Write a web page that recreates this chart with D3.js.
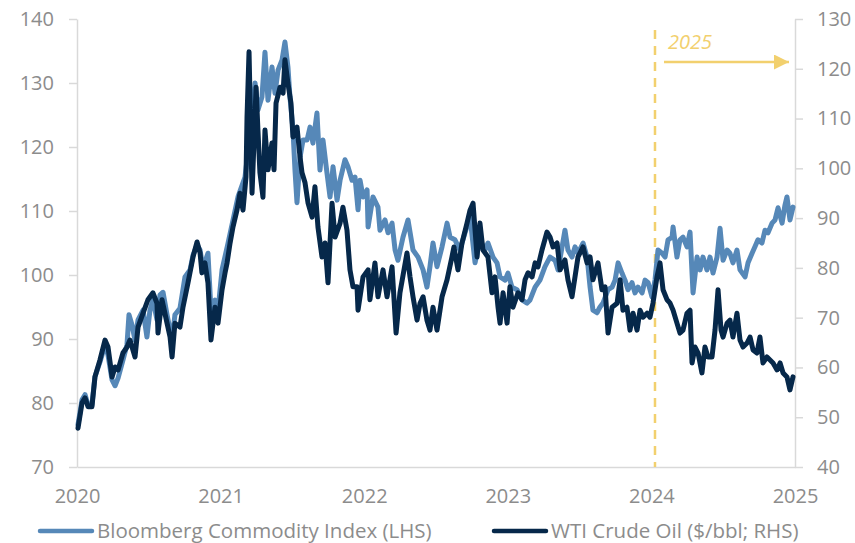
<!DOCTYPE html>
<html>
<head>
<meta charset="utf-8">
<script src="https://cdn.jsdelivr.net/npm/d3@7/dist/d3.min.js"></script>
<style>
  html, body { margin: 0; padding: 0; background: #ffffff; }
  svg { display: block; }
  text { font-family: "Open Sans", "Noto Sans", sans-serif; }
</style>
</head>
<body>
<svg id="chart" width="855" height="543"></svg>
<script>
// ---- data ----
const yearTicks = [2020, 2021, 2022, 2023, 2024, 2025];
const leftTicks = [70, 80, 90, 100, 110, 120, 130, 140];
const rightTicks = [40, 50, 60, 70, 80, 90, 100, 110, 120, 130];
const seriesNames = ["Bloomberg Commodity Index (LHS)", "WTI Crude Oil ($/bbl; RHS)"];
const annotationLabel = "2025";
const annotationDate = 2024.025;

const bcomDates = [2020.007,2020.035,2020.056,2020.077,2020.104,2020.125,2020.160,2020.195,2020.216,2020.244,2020.265,2020.286,2020.320,2020.348,2020.362,2020.383,2020.404,2020.425,2020.460,2020.487,2020.508,2020.529,2020.557,2020.578,2020.599,2020.627,2020.648,2020.662,2020.682,2020.717,2020.752,2020.787,2020.808,2020.836,2020.857,2020.877,2020.912,2020.933,2020.961,2020.982,2021.010,2021.052,2021.121,2021.170,2021.219,2021.240,2021.260,2021.288,2021.309,2021.330,2021.358,2021.379,2021.400,2021.428,2021.448,2021.469,2021.483,2021.504,2021.518,2021.532,2021.553,2021.574,2021.602,2021.623,2021.643,2021.671,2021.692,2021.713,2021.741,2021.762,2021.783,2021.811,2021.832,2021.866,2021.887,2021.915,2021.936,2021.957,2021.971,2021.992,2022.020,2022.027,2022.061,2022.096,2022.110,2022.145,2022.166,2022.194,2022.215,2022.235,2022.270,2022.305,2022.340,2022.375,2022.410,2022.437,2022.458,2022.479,2022.507,2022.542,2022.577,2022.598,2022.632,2022.667,2022.702,2022.737,2022.772,2022.806,2022.841,2022.862,2022.897,2022.925,2022.946,2022.981,2023.001,2023.029,2023.064,2023.099,2023.134,2023.155,2023.190,2023.224,2023.259,2023.294,2023.329,2023.350,2023.378,2023.398,2023.419,2023.447,2023.468,2023.489,2023.524,2023.552,2023.573,2023.593,2023.621,2023.642,2023.663,2023.698,2023.726,2023.747,2023.768,2023.795,2023.816,2023.837,2023.865,2023.886,2023.907,2023.935,2023.956,2023.977,2024.004,2024.025,2024.046,2024.074,2024.095,2024.116,2024.144,2024.151,2024.178,2024.199,2024.220,2024.248,2024.269,2024.283,2024.290,2024.318,2024.339,2024.359,2024.387,2024.408,2024.429,2024.457,2024.478,2024.499,2024.527,2024.547,2024.568,2024.596,2024.617,2024.652,2024.673,2024.701,2024.721,2024.742,2024.770,2024.791,2024.812,2024.840,2024.861,2024.882,2024.910,2024.930,2024.944,2024.965,2024.986];
const bcomValues = [76.6,80.5,81.3,79.7,79.7,84.1,86.4,89.1,87.5,83.6,82.7,83.9,86.7,89.1,93.8,92.2,89.8,93.0,94.5,90.3,94.5,96.1,93.0,96.9,97.3,93.8,91.4,89.8,93.8,94.8,99.7,100.8,103.1,104.7,103.9,101.1,103.4,94.5,96.1,94.5,100.8,105.0,112.2,115.3,124.7,130.0,125.8,127.8,134.8,127.3,132.5,128.4,132.0,133.6,136.4,132.5,127.8,122.7,116.4,111.3,118.4,121.1,121.1,123.1,120.6,125.3,116.4,121.1,115.9,112.2,116.9,111.7,114.8,118.0,116.9,114.8,115.3,110.2,114.8,112.2,113.3,107.5,112.2,110.6,107.0,108.6,106.6,108.1,103.9,102.3,105.9,108.6,103.9,102.8,100.8,98.1,101.3,105.0,101.3,104.4,108.1,105.9,105.5,103.9,106.6,109.1,101.9,105.5,103.9,105.0,102.8,101.9,99.7,99.2,100.3,98.1,97.7,96.1,95.6,96.1,98.1,99.2,101.3,102.8,102.3,100.8,104.4,107.0,103.9,102.8,104.4,103.4,105.0,102.8,98.1,94.5,94.1,95.0,95.6,97.7,98.1,99.2,101.9,100.3,99.2,97.7,98.8,97.2,98.1,97.2,99.2,98.8,96.6,99.2,103.9,103.4,102.8,105.5,105.9,107.5,102.8,105.5,105.9,104.4,106.7,100.3,97.2,102.8,100.8,102.8,100.8,102.8,100.3,102.8,107.3,102.3,103.9,103.4,101.9,103.9,100.8,99.7,101.9,103.4,104.4,105.5,105.0,107.0,106.6,108.1,108.6,110.5,108.1,110.9,112.2,108.6,110.6];

const wtiDates = [2020.007,2020.035,2020.056,2020.077,2020.104,2020.125,2020.160,2020.195,2020.216,2020.244,2020.265,2020.286,2020.320,2020.348,2020.369,2020.404,2020.425,2020.460,2020.494,2020.529,2020.557,2020.564,2020.592,2020.627,2020.648,2020.662,2020.682,2020.717,2020.738,2020.773,2020.808,2020.836,2020.857,2020.870,2020.891,2020.912,2020.933,2020.961,2020.982,2021.010,2021.031,2021.045,2021.066,2021.086,2021.114,2021.135,2021.156,2021.177,2021.184,2021.198,2021.219,2021.247,2021.260,2021.274,2021.295,2021.309,2021.330,2021.358,2021.372,2021.386,2021.414,2021.435,2021.448,2021.469,2021.490,2021.504,2021.532,2021.553,2021.567,2021.588,2021.609,2021.637,2021.657,2021.678,2021.706,2021.727,2021.748,2021.776,2021.797,2021.832,2021.852,2021.880,2021.901,2021.922,2021.950,2021.957,2021.992,2022.027,2022.040,2022.075,2022.096,2022.131,2022.159,2022.194,2022.222,2022.249,2022.298,2022.319,2022.340,2022.368,2022.389,2022.410,2022.437,2022.458,2022.479,2022.507,2022.542,2022.577,2022.611,2022.625,2022.653,2022.681,2022.716,2022.737,2022.758,2022.786,2022.806,2022.827,2022.862,2022.890,2022.911,2022.932,2022.946,2022.967,2022.995,2023.015,2023.036,2023.071,2023.099,2023.120,2023.141,2023.169,2023.190,2023.210,2023.238,2023.273,2023.294,2023.315,2023.343,2023.364,2023.398,2023.419,2023.447,2023.468,2023.489,2023.524,2023.552,2023.573,2023.593,2023.628,2023.656,2023.677,2023.698,2023.726,2023.761,2023.782,2023.802,2023.830,2023.851,2023.872,2023.900,2023.921,2023.942,2023.970,2023.990,2024.011,2024.039,2024.060,2024.081,2024.109,2024.130,2024.151,2024.178,2024.199,2024.220,2024.248,2024.269,2024.283,2024.304,2024.325,2024.352,2024.373,2024.394,2024.422,2024.443,2024.464,2024.485,2024.499,2024.527,2024.547,2024.568,2024.596,2024.617,2024.638,2024.666,2024.687,2024.708,2024.735,2024.756,2024.777,2024.805,2024.826,2024.847,2024.875,2024.896,2024.917,2024.944,2024.965,2024.986];
const wtiValues = [47.8,52.9,53.9,52.1,52.1,58.1,61.5,65.5,64.1,58.1,60.1,59.5,62.9,64.1,65.5,62.1,68.1,70.9,73.6,75.0,72.9,66.9,73.6,68.9,66.1,62.1,68.9,68.1,72.1,77.0,82.2,85.2,83.0,79.0,81.0,77.0,65.5,72.1,68.9,75.6,79.0,81.0,85.0,88.2,91.6,95.0,91.6,98.3,110.3,123.4,95.0,116.3,107.7,99.1,94.2,107.7,99.7,105.1,99.7,113.1,116.3,115.1,121.8,117.1,113.1,106.3,108.3,102.3,99.1,97.1,93.0,90.2,96.3,88.2,82.2,85.0,77.0,93.0,86.2,89.0,92.2,87.6,79.6,76.2,76.2,71.5,78.2,79.6,73.6,81.0,74.2,79.6,74.2,80.2,66.9,75.0,83.0,78.2,74.2,69.5,72.9,74.2,69.5,67.5,72.1,67.5,74.2,77.6,82.2,84.2,79.6,85.0,89.0,91.6,93.0,82.2,89.0,83.6,82.2,75.0,78.2,72.1,68.9,75.0,68.9,76.2,72.1,75.0,73.6,77.6,79.0,78.2,81.0,80.2,83.6,87.2,86.2,84.2,85.0,79.6,81.6,77.6,74.2,78.2,82.2,84.2,81.0,82.2,77.6,81.0,75.6,76.2,66.9,72.1,72.9,77.6,71.5,72.1,67.5,70.9,67.5,71.5,70.1,70.9,70.1,72.9,78.2,81.0,75.6,73.6,72.9,71.5,68.9,66.9,67.5,70.9,71.5,60.9,64.1,62.9,58.9,64.1,62.1,62.1,67.5,75.6,67.5,66.1,68.9,69.5,66.1,70.9,65.5,64.1,64.9,66.1,63.5,62.9,66.1,60.9,62.1,61.5,60.9,59.5,60.9,58.9,58.1,55.5,58.1];

// ---- layout ----
const W = 855, H = 543;
const plot = { left: 77, right: 795, top: 19, bottom: 467 };
const colors = { bcom: "#5688b8", wti: "#06284a", axis: "#d9d9d9", text: "#8c8c8c", note: "#f2d06e" };

const svg = d3.select("#chart");

const x = d3.scaleLinear().domain([2020, 2025]).range([plot.left, plot.right]);
const yL = d3.scaleLinear().domain([70, 140]).range([plot.bottom, plot.top]);
const yR = d3.scaleLinear().domain([40, 130]).range([plot.bottom, plot.top]);

function styleAxis(g) {
  g.selectAll(".domain").attr("stroke", colors.axis).attr("stroke-width", 1.5);
  g.selectAll(".tick line").attr("stroke", colors.axis).attr("stroke-width", 1.5);
  g.selectAll(".tick text").attr("fill", colors.text).style("font-size", "20px")
    .style("font-family", '"Open Sans", "Noto Sans", sans-serif');
}

// bottom axis
svg.append("g")
  .attr("transform", `translate(0,${plot.bottom})`)
  .call(d3.axisBottom(x).tickValues(yearTicks).tickFormat(d3.format("d")).tickSize(0).tickSizeOuter(0).tickPadding(22))
  .call(styleAxis);

// left axis
svg.append("g")
  .attr("transform", `translate(${plot.left},0)`)
  .call(d3.axisLeft(yL).tickValues(leftTicks).tickSize(8).tickSizeOuter(0).tickPadding(15))
  .call(styleAxis);

// right axis
svg.append("g")
  .attr("transform", `translate(${plot.right},0)`)
  .call(d3.axisRight(yR).tickValues(rightTicks).tickSize(8).tickSizeOuter(0).tickPadding(14))
  .call(styleAxis);

// annotation: dashed line + label + arrow
const ax = x(annotationDate);
svg.append("line")
  .attr("x1", ax).attr("x2", ax)
  .attr("y1", plot.top + 11).attr("y2", plot.bottom)
  .attr("stroke", colors.note).attr("stroke-width", 2.5)
  .attr("stroke-dasharray", "9,7");

svg.append("text")
  .attr("x", ax + 13).attr("y", 49)
  .attr("fill", colors.note)
  .style("font-size", "20px").style("font-style", "italic")
  .text(annotationLabel);

const defs = svg.append("defs");
defs.append("marker")
  .attr("id", "arrowhead").attr("viewBox", "0 0 10 10")
  .attr("refX", 10).attr("refY", 5)
  .attr("markerUnits", "userSpaceOnUse")
  .attr("markerWidth", 17).attr("markerHeight", 15)
  .attr("orient", "auto")
  .append("path").attr("d", "M0,0 L10,5 L0,10 Z").attr("fill", colors.note);

svg.append("line")
  .attr("x1", ax + 9).attr("x2", plot.right - 6)
  .attr("y1", 62).attr("y2", 62)
  .attr("stroke", colors.note).attr("stroke-width", 2.5)
  .attr("marker-end", "url(#arrowhead)");

// lines
const bcomData = bcomDates.map((d, i) => [d, bcomValues[i]]);
const wtiData = wtiDates.map((d, i) => [d, wtiValues[i]]);

const lineL = d3.line().x(d => x(d[0])).y(d => yL(d[1]));
const lineR = d3.line().x(d => x(d[0])).y(d => yR(d[1]));

svg.append("path").datum(bcomData)
  .attr("d", lineL).attr("fill", "none")
  .attr("stroke", colors.bcom).attr("stroke-width", 5)
  .attr("stroke-linejoin", "round").attr("stroke-linecap", "round");

svg.append("path").datum(wtiData)
  .attr("d", lineR).attr("fill", "none")
  .attr("stroke", colors.wti).attr("stroke-width", 5)
  .attr("stroke-linejoin", "round").attr("stroke-linecap", "round");

// legend
const legendItems = [
  { name: seriesNames[0], color: colors.bcom, x0: 40 },
  { name: seriesNames[1], color: colors.wti, x0: 494 }
];
const lg = svg.append("g");
legendItems.forEach(it => {
  lg.append("line")
    .attr("x1", it.x0).attr("x2", it.x0 + 52)
    .attr("y1", 531).attr("y2", 531)
    .attr("stroke", it.color).attr("stroke-width", 4.5).attr("stroke-linecap", "round");
  lg.append("text")
    .attr("x", it.x0 + 57).attr("y", 538)
    .attr("fill", colors.text)
    .style("font-size", "20.5px")
    .text(it.name);
});
</script>
</body>
</html>
